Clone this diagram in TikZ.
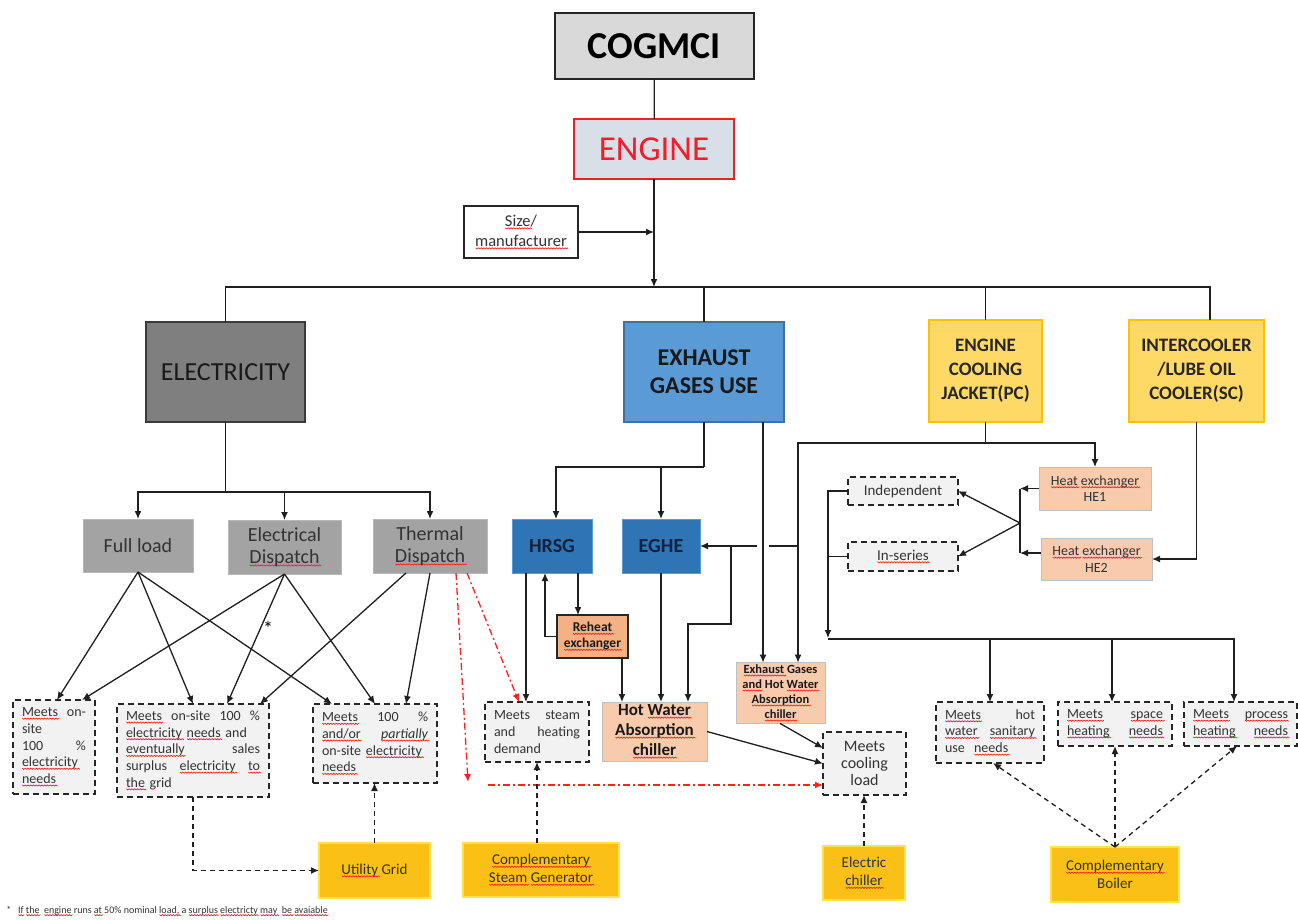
\documentclass[tikz,border=0pt]{standalone}
\usepackage{fontspec}
\setmainfont{Carlito}
\usetikzlibrary{arrows.meta,calc}
\definecolor{cgray}{HTML}{D9D9D9}
\definecolor{engf}{HTML}{D9DFE8}
\definecolor{engred}{HTML}{F01E28}
\definecolor{elecf}{HTML}{7F7F7F}
\definecolor{elecd}{HTML}{3A3A3A}
\definecolor{dispf}{HTML}{A3A3A3}
\definecolor{dispd}{HTML}{B8B8B8}
\definecolor{exhf}{HTML}{5B9BD5}
\definecolor{exhd}{HTML}{41719C}
\definecolor{hrsgf}{HTML}{2E75B6}
\definecolor{hrsgd}{HTML}{5B9BD5}
\definecolor{navy}{HTML}{14213D}
\definecolor{ylwf}{HTML}{FFD966}
\definecolor{ylwd}{HTML}{FFC000}
\definecolor{orgl}{HTML}{F8CBAD}
\definecolor{orgd}{HTML}{F4B183}
\definecolor{lgd}{HTML}{BFBFBF}
\definecolor{meetf}{HTML}{F2F2F2}
\definecolor{ybf}{HTML}{FBC015}
\definecolor{ybd}{HTML}{FFE34D}
\definecolor{txtg}{HTML}{333333}
\definecolor{redl}{HTML}{FF2020}
\newbox\splbox
\newdimen\splw
\newdimen\splx
\newcount\spln
\newcommand\spl[1]{\leavevmode\setbox\splbox\hbox{#1}\splw=\wd\splbox
  \rlap{\lower3pt\hbox{\begin{pgfpicture}%
    \pgfsetlinewidth{0.7pt}\pgfsetstrokecolor{redl}\pgfsetdash{}{0pt}%
    \pgfpathmoveto{\pgfpoint{0pt}{0pt}}\splx=0pt \spln=0
    \loop \advance\splx by 1.4pt \advance\spln by 1
      \ifodd\spln \pgfpathlineto{\pgfpoint{\splx}{-1.1pt}}\else \pgfpathlineto{\pgfpoint{\splx}{0pt}}\fi
    \ifdim\splx<\splw \repeat
    \pgfusepath{stroke}%
  \end{pgfpicture}}}\box\splbox}
\newcommand\mybox[7]{\node[#6,minimum width={(#4)-(#2)},minimum height={(#5)-(#3)}] (#1) at ({((#2)+(#4))/2},{((#3)+(#5))/2}) {#7};}
\begin{document}
\begin{tikzpicture}[x=1pt,y=-1pt,
  base/.style={draw, inner sep=2pt, outer sep=0pt, align=center, line width=1pt},
  cogs/.style={base, fill=cgray, draw=black!85, line width=1.5pt, font=\fontsize{38}{40}\selectfont\bfseries},
  engs/.style={base, fill=engf, draw=engred, line width=2.5pt, text=engred, font=\fontsize{35}{38}\selectfont},
  sizes/.style={base, fill=white, draw=black!85, line width=1.2pt, text=txtg, font=\fontsize{16.5}{20}\selectfont},
  elecs/.style={base, fill=elecf, draw=elecd, line width=1.3pt, text=black!90, font=\fontsize{26}{30}\selectfont},
  disps/.style={base, fill=dispf, draw=dispd, text=txtg, font=\fontsize{20}{22}\selectfont},
  exhs/.style={base, fill=exhf, draw=exhd, line width=1.3pt, text=black!90, font=\fontsize{24}{28}\selectfont\bfseries},
  hrsgs/.style={base, fill=hrsgf, draw=hrsgd, text=navy, font=\fontsize{20}{24}\selectfont\bfseries},
  ylws/.style={base, fill=ylwf, draw=ylwd, line width=1.3pt, text=black!85, font=\fontsize{19}{24}\selectfont\bfseries},
  meets/.style={base, fill=meetf, draw=black!85, line width=1.4pt, dash pattern=on 6pt off 4pt, text=txtg, align=left, font=\fontsize{14}{16.7}\selectfont},
  meetc/.style={meets, align=center, font=\fontsize{15}{18}\selectfont},
  orgs/.style={base, fill=orgl, draw=lgd, line width=1pt, text=black!90},
  rehs/.style={base, fill=orgd, draw=black!85, line width=1.4pt, text=black!90, font=\fontsize{13.5}{16}\selectfont\bfseries},
  ybot/.style={base, fill=ybf, draw=ybd, line width=1.2pt, text=txtg, font=\fontsize{15}{18}\selectfont},
  conn/.style={line width=1.3pt, draw=black!88},
  arr/.style={conn, -{Latex[length=8pt,width=7pt]}},
  darr/.style={arr, dash pattern=on 5pt off 4pt},
  rarr/.style={line width=1.3pt, draw=redl, dash pattern=on 7pt off 3pt on 2pt off 3pt, -{Latex[length=8pt,width=7pt]}}
]
\useasboundingbox[fill=white] (0,0) rectangle (1298,919);

% ---------- boxes ----------
\mybox{cog}{555}{13}{754}{79}{cogs}{COGMCI}
\mybox{eng}{574}{119}{734}{179}{engs}{ENGINE}
\mybox{size}{464}{206}{578}{258}{sizes}{\spl{Size}/\\\spl{manufacturer}}
\mybox{elec}{146}{322}{305}{422}{elecs}{ELECTRICITY}
\mybox{exh}{624}{322}{784}{422}{exhs}{EXHAUST\\GASES USE}
\mybox{ecj}{929}{320}{1042}{422}{ylws}{ENGINE\\COOLING\\JACKET(PC)}
\mybox{ic}{1129}{320}{1264}{422}{ylws}{INTERCOOLER\\/LUBE OIL\\COOLER(SC)}
\mybox{full}{83}{519}{193}{572}{disps}{Full load}
\mybox{edis}{228}{520}{341}{574}{disps}{Electrical\\\spl{Dispatch}}
\mybox{tdis}{373}{519}{487}{573}{disps}{Thermal\\\spl{Dispatch}}
\mybox{hrsg}{512}{519}{592}{573}{hrsgs}{HRSG}
\mybox{eghe}{622}{519}{700}{573}{hrsgs}{EGHE}
\mybox{reh}{557}{615}{628}{658}{rehs}{\spl{Reheat}\\\spl{exchanger}}
\mybox{hwac}{602}{702}{707}{761}{orgs,font=\fontsize{17}{20}\selectfont\bfseries}{Hot \spl{Water}\\\spl{Absorption}\\\spl{chiller}}
\mybox{eghw}{736}{663}{825}{723}{orgs,font=\fontsize{12.5}{15}\selectfont\bfseries}{\spl{Exhaust} Gases\\\spl{and} Hot \spl{Water}\\\spl{Absorption}\\\spl{chiller}}
\mybox{he1}{1039}{467}{1151}{510}{orgs,text=txtg,font=\fontsize{14}{16.5}\selectfont}{\spl{Heat} \spl{exchanger}\\HE1}
\mybox{he2}{1041}{538}{1152}{580}{orgs,text=txtg,font=\fontsize{14}{16.5}\selectfont}{\spl{Heat} \spl{exchanger}\\HE2}
\mybox{ind}{848}{477}{958}{505}{meetc}{Independent}
\mybox{ins}{848}{542}{958}{571}{meetc}{\spl{In-series}}
\mybox{m1}{13}{700}{95}{794}{meets,text width=64}{\spl{Meets}\hfill on-\\site\\100\hfill \%\\\spl{electricity}\\\spl{needs}}
\mybox{m2}{117}{704}{269}{797}{meets,text width=134}{\spl{Meets}\hfill on-site\hfill 100\hfill \%\\\spl{electricity} \spl{needs} and\\\spl{eventually}\hfill sales\\surplus\hfill \spl{electricity}\hfill \spl{to}\\\spl{the} grid}
\mybox{m3}{313}{704}{437}{783}{meets,text width=106}{\spl{Meets}\hfill 100\hfill \%\\\spl{and/or}\hfill \textit{\spl{partially}}\\on-site \spl{electricity}\\\spl{needs}}
\mybox{m4}{485}{702}{589}{762}{meets,text width=86}{Meets\hfill steam\\and\hfill heating\\demand}
\mybox{cool}{823}{732}{906}{795}{meetc,font=\fontsize{16}{17}\selectfont}{Meets\\cooling\\load}
\mybox{hws}{936}{702}{1044}{763}{meets,text width=90}{\spl{Meets}\hfill hot\\\spl{water}\hfill \spl{sanitary}\\use\ \ \spl{needs}}
\mybox{sph}{1058}{702}{1172}{746}{meets,text width=96}{\spl{Meets}\hfill \spl{space}\\\spl{heating}\hfill \spl{needs}}
\mybox{prh}{1184}{702}{1297}{746}{meets,text width=95}{\spl{Meets}\hfill \spl{process}\\\spl{heating}\hfill \spl{needs}}
\mybox{grid}{319}{843}{430}{898}{ybot}{\spl{Utility} Grid}
\mybox{sg}{463}{843}{619}{897}{ybot}{\spl{Complementary}\\\spl{Steam} \spl{Generator}}
\mybox{ech}{823}{846}{905}{900}{ybot}{Electric\\\spl{chiller}}
\mybox{boil}{1051}{847}{1179}{902}{ybot}{\spl{Complementary}\\Boiler}

% ---------- top connectors ----------
\draw[conn] (cog) -- (eng);
\coordinate (bus0) at (654,287);
\draw[arr] (eng.south) -- (bus0);
\draw[arr] (size.east) -- (size.east -| bus0);
\coordinate (icT) at (1210,320);
\draw[conn] (elec.north) |- (bus0) -| (icT);
\draw[conn] (exh.north) -- (exh.north |- bus0);
\draw[conn] (ecj.north) -- (ecj.north |- bus0);

% ---------- electricity ----------
\coordinate (ebus) at (225.5,492);
\draw[conn] (elec.south) -- (ebus);
\draw[arr] (ebus) -| (full.north);
\draw[arr] (ebus) -| (tdis.north);
\draw[arr] (edis.north |- ebus) -- (edis.north);

\coordinate (m1a) at ([xshift=44pt]m1.north west);
\coordinate (m1b) at ([xshift=69pt]m1.north west);
\coordinate (m2a) at ([xshift=76pt]m2.north west);
\coordinate (m2b) at ([xshift=110pt]m2.north west);
\coordinate (m2c) at ([xshift=143pt]m2.north west);
\coordinate (m3a) at ([xshift=19pt]m3.north west);
\coordinate (m3b) at ([xshift=62pt]m3.north west);
\coordinate (m3c) at ([xshift=93pt]m3.north west);
\coordinate (t1) at ([xshift=33pt]tdis.south west);
\coordinate (t2) at ([xshift=83pt]tdis.south west);
\coordinate (t3) at ([xshift=94pt]tdis.south west);
\draw[arr] (full.south) -- (m1a);
\draw[arr] (full.south) -- (m2a);
\draw[arr] (full.south) -- (m3a);
\draw[arr] (edis.south) -- (m1b);
\draw[arr] (edis.south) -- (m2b);
\draw[arr] (edis.south) -- (m3b);
\draw[arr] (t1) -- (m2c);
\draw[arr] (tdis.south) -- (m3c);
\node[font=\fontsize{20}{20}\selectfont] (ast) at (268,628) {*};

% red dash-dot
\coordinate (r1) at (468,782);
\draw[rarr] (t2) -- (r1);
\coordinate (m4a) at ([xshift=34pt]m4.north west);
\draw[rarr] (t3) -- (m4a);
\coordinate (r2) at (488,785);
\coordinate (coolr) at ([yshift=10pt]cool.south west);
\draw[rarr] (r2) -- (coolr);

% ---------- exhaust ----------
\coordinate (exb) at (704,467);
\draw[conn] (exh.south) -- (exb);
\coordinate (hT) at ([xshift=44pt]hrsg.north west);
\draw[arr] (exb) -| (hT);
\draw[arr] (eghe.north |- exb) -- (eghe.north);
\coordinate (exR) at ([xshift=59pt]exh.south);
\draw[arr] (exR) -- (exR |- eghw.north);

\coordinate (hA) at ([xshift=14pt]hrsg.south west);
\draw[arr] (hA) -- (hA |- m4.north);
\coordinate (hB) at ([xshift=66pt]hrsg.south west);
\draw[arr] (hB) -- (hB |- reh.north);
\coordinate (hC) at ([xshift=33pt]hrsg.south west);
\draw[arr] (reh.west) -| (hC);
\coordinate (rB) at ([xshift=65pt]reh.south west);
\draw[arr] (rB) -- (rB |- hwac.north);
\draw[arr] (eghe.south) -- (eghe.south |- hwac.north);

% ---------- engine cooling jacket ----------
\coordinate (ecb) at (985.5,443);
\draw[conn] (ecj.south) -- (ecb);
\draw[arr] (ecb) -| (he1.north);
\coordinate (gT) at ([xshift=62pt]eghw.north west);
\draw[arr] (ecb) -| (gT);
\coordinate (jA) at (798,546);
\coordinate (gapR) at (769,546);
\coordinate (gapL) at (757,546);
\draw[conn] (jA) -- (gapR);
\draw[arr] (gapL) -- (eghe.east);
\coordinate (jB) at (731,546);
\coordinate (jC) at (688,624);
\coordinate (hwT) at ([xshift=86pt]hwac.north west);
\draw[arr] (jB) |- (jC) -- (hwT);

% ---------- intercooler / heat exchangers ----------
\draw[arr] (ic.south) |- (he2.east);
\coordinate (hv1) at (1020,488.5);
\coordinate (hv2) at (1020,553);
\coordinate (hvm) at (1020,523);
\draw[arr] (he1.west) -- (hv1);
\coordinate (he2w) at ([yshift=6pt]he2.west);
\draw[arr] (he2w) -- (hv2);
\draw[conn] (hv1) -- (hv2);
\draw[arr] (hvm) -- (ind.east);
\draw[arr] (hvm) -- (ins.east);

\coordinate (hbA) at (828,638);
\draw[arr] (ind.west) -| (hbA);
\draw[conn] (ins.west) -- (ins.west -| hbA);
\coordinate (hb0) at (828,639);
\coordinate (prT) at ([xshift=50pt]prh.north west);
\draw[arr] (hb0) -| (prT);
\draw[arr] (hws.north |- hb0) -- (hws.north);
\coordinate (spT) at ([xshift=-3pt]sph.north);
\draw[arr] (spT |- hb0) -- (spT);

% ---------- chillers to cooling load ----------
\draw[arr] (hwac.east) -- (cool.west);
\coordinate (gB) at ([xshift=44pt]eghw.south west);
\coordinate (cW) at ([yshift=-16pt]cool.north west);
\draw[arr] (gB) -- (cW);

% ---------- dashed supply connectors ----------
\draw[darr] (m2.south) |- (grid.west);
\draw[darr] (grid.north) -- (grid.north |- m3.south);
\draw[darr] (sg.north -| m4.south) -- (m4.south);
\draw[darr] (ech.north) -- (ech.north |- cool.south);
\coordinate (hwB) at ([xshift=57pt]hws.south west);
\draw[darr] (boil.north) -- (hwB);
\draw[darr] (boil.north) -- (boil.north |- sph.south);
\coordinate (prB) at ([xshift=53pt]prh.south west);
\draw[darr] (boil.north) -- (prB);

% footnote
\node[anchor=west, inner sep=0pt, font=\fontsize{10}{12}\selectfont, text=txtg] (fn) at (6,911) {*\ \ \ \spl{If} \spl{the}\ \ \spl{engine} runs \spl{at} 50\% nominal \spl{load,} a \spl{surplus} \spl{electricty} \spl{may}\ \ \spl{be} \spl{avaiable}};
\end{tikzpicture}
\end{document}
